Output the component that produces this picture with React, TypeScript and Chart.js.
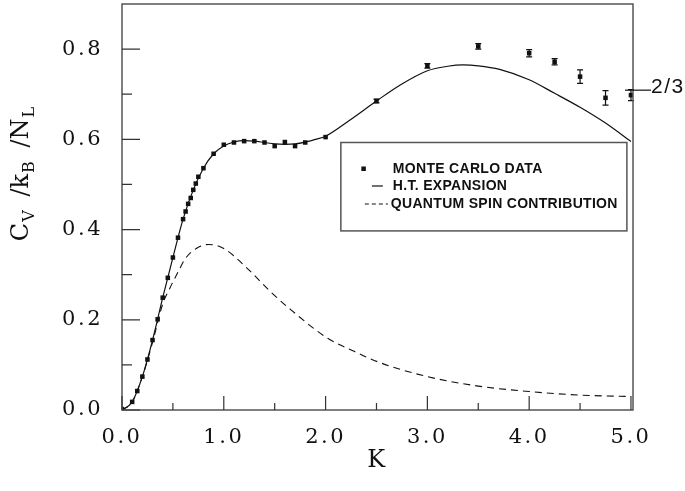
import React, { useEffect, useRef } from "react";
import { Chart, registerables } from "chart.js";

Chart.register(...registerables);

// ---------- data ----------
// Monte Carlo data: K, Cv/kB/NL, error bar half-height
const mcK = [0.0, 0.1, 0.15, 0.2, 0.25, 0.3, 0.35, 0.4, 0.45, 0.5, 0.55, 0.6, 0.625, 0.65, 0.675, 0.7, 0.725, 0.75, 0.8, 0.9, 1.0, 1.1, 1.2, 1.3, 1.4, 1.5, 1.6, 1.7, 1.8, 2.0, 2.5, 3.0, 3.5, 4.0, 4.25, 4.5, 4.75, 5.0];
const mcCv = [0.002, 0.018, 0.042, 0.074, 0.112, 0.155, 0.201, 0.249, 0.293, 0.338, 0.382, 0.423, 0.44, 0.457, 0.47, 0.488, 0.502, 0.517, 0.536, 0.568, 0.588, 0.593, 0.596, 0.596, 0.593, 0.585, 0.594, 0.585, 0.593, 0.605, 0.685, 0.763, 0.806, 0.791, 0.772, 0.739, 0.692, 0.698];
const mcErr = [0, 0, 0, 0, 0, 0, 0, 0, 0, 0, 0, 0, 0, 0, 0, 0, 0, 0, 0, 0, 0, 0, 0, 0, 0, 0, 0, 0, 0, 0, 0.004, 0.005, 0.006, 0.008, 0.007, 0.015, 0.016, 0.012];

// High-temperature expansion (solid curve)
const htK = [0.0, 0.1, 0.2, 0.3, 0.4, 0.5, 0.6, 0.7, 0.8, 0.9, 1.0, 1.1, 1.2, 1.3, 1.4, 1.5, 1.6, 1.7, 1.8, 1.9, 2.0, 2.24, 2.5, 2.73, 3.0, 3.2, 3.35, 3.5, 3.71, 4.0, 4.25, 4.5, 4.75, 5.0];
const htCv = [0.0, 0.018, 0.074, 0.155, 0.249, 0.338, 0.423, 0.488, 0.536, 0.568, 0.585, 0.594, 0.597, 0.596, 0.593, 0.59, 0.589, 0.59, 0.594, 0.6, 0.607, 0.643, 0.685, 0.72, 0.752, 0.762, 0.765, 0.763, 0.755, 0.732, 0.702, 0.671, 0.636, 0.595];

// Quantum spin contribution (dashed curve)
const qsK = [0.0, 0.1, 0.2, 0.3, 0.4, 0.47, 0.56, 0.62, 0.73, 0.85, 1.0, 1.23, 1.46, 1.66, 2.02, 2.28, 2.51, 3.0, 3.5, 4.0, 4.5, 5.0];
const qsCv = [0.0, 0.018, 0.074, 0.15, 0.235, 0.27, 0.31, 0.335, 0.358, 0.367, 0.358, 0.314, 0.262, 0.222, 0.159, 0.13, 0.107, 0.074, 0.053, 0.041, 0.033, 0.03];

const legendLabels = ["MONTE CARLO DATA", "H.T. EXPANSION", "QUANTUM SPIN CONTRIBUTION"];
const yTitleMain = ["C", " /k", " /N"];
const yTitleSub = ["V", "B", "L"];
const xTitle = "K";
const limitLabel = "2/3";
const limitValue = 0.709;

const xMin = 0;
const xMax = 5.02;
const yMin = 0;
const yMax = 0.9;
const xStep = 1;
const yStep = 0.2;

// legend box in data coordinates
const legendBoxK = [2.15, 4.96];
const legendBoxCv = [0.397, 0.593];

export default function App() {
  const ref = useRef<HTMLCanvasElement>(null);

  useEffect(() => {
    const canvas = ref.current!;
    const serif = "'DejaVu Serif', serif";
    const sans = "'Liberation Sans', Arial, sans-serif";
    const ink = "#111";
    const frameCol = "#555";

    const figurePlugin = {
      id: "figure",
      beforeDraw(chart: any) {
        const ctx = chart.ctx;
        ctx.save();
        ctx.fillStyle = "#fff";
        ctx.fillRect(0, 0, chart.width, chart.height);
        ctx.restore();
        ctx.letterSpacing = "2.5px";
      },
      beforeDatasetsDraw(chart: any) {
        chart.ctx.letterSpacing = "0px";
      },
      afterDatasetsDraw(chart: any) {
        const ctx = chart.ctx;
        const xs = chart.scales.x;
        const ys = chart.scales.y;
        ctx.save();
        ctx.strokeStyle = ink;
        ctx.lineWidth = 1.2;
        for (let i = 0; i < mcK.length; i++) {
          const e = mcErr[i];
          if (!e) continue;
          const x = xs.getPixelForValue(mcK[i]);
          const y1 = ys.getPixelForValue(mcCv[i] + e);
          const y2 = ys.getPixelForValue(mcCv[i] - e);
          ctx.beginPath();
          ctx.moveTo(x, y1);
          ctx.lineTo(x, y2);
          ctx.moveTo(x - 3, y1);
          ctx.lineTo(x + 3, y1);
          ctx.moveTo(x - 3, y2);
          ctx.lineTo(x + 3, y2);
          ctx.stroke();
        }
        ctx.restore();
      },
      afterDraw(chart: any) {
        const ctx = chart.ctx;
        const xs = chart.scales.x;
        const ys = chart.scales.y;
        const a = chart.chartArea;
        ctx.save();
        ctx.letterSpacing = "0px";

        // frame
        ctx.strokeStyle = frameCol;
        ctx.lineWidth = 1.5;
        ctx.strokeRect(a.left, a.top, a.right - a.left, a.bottom - a.top);

        // inward ticks
        ctx.strokeStyle = "#333";
        ctx.lineWidth = 1.2;
        ctx.beginPath();
        const yt = ys.ticks.map((t: any) => t.value);
        yt.forEach((v: number) => {
          const y = ys.getPixelForValue(v);
          ctx.moveTo(a.left, y);
          ctx.lineTo(a.left + 18, y);
        });
        for (let v = yt[0] + yStep / 2; v < yMax - 1e-6; v += yStep) {
          const y = ys.getPixelForValue(v);
          ctx.moveTo(a.left, y);
          ctx.lineTo(a.left + 10, y);
        }
        const xt = xs.ticks.map((t: any) => t.value);
        xt.forEach((v: number) => {
          const x = xs.getPixelForValue(v);
          ctx.moveTo(x, a.bottom);
          ctx.lineTo(x, a.bottom - 14);
        });
        for (let v = xt[0] + xStep / 2; v < xMax - 1e-6; v += xStep) {
          const x = xs.getPixelForValue(v);
          ctx.moveTo(x, a.bottom);
          ctx.lineTo(x, a.bottom - 7);
        }
        ctx.stroke();

        // legend box
        const bl = xs.getPixelForValue(legendBoxK[0]);
        const br = xs.getPixelForValue(legendBoxK[1]);
        const bt = ys.getPixelForValue(legendBoxCv[1]);
        const bb = ys.getPixelForValue(legendBoxCv[0]);
        ctx.fillStyle = "#fff";
        ctx.fillRect(bl, bt, br - bl, bb - bt);
        ctx.strokeStyle = frameCol;
        ctx.lineWidth = 1.5;
        ctx.strokeRect(bl, bt, br - bl, bb - bt);

        const rows = [bt + 26.5, bt + 43.5, bt + 61.5];
        ctx.fillStyle = ink;
        ctx.fillRect(bl + 20.5, rows[0] - 2.5, 4.5, 4.5);
        ctx.strokeStyle = ink;
        ctx.lineWidth = 1.2;
        ctx.beginPath();
        ctx.moveTo(bl + 31, rows[1]);
        ctx.lineTo(bl + 42, rows[1]);
        ctx.stroke();
        ctx.setLineDash([4, 3]);
        ctx.beginPath();
        ctx.moveTo(bl + 24, rows[2]);
        ctx.lineTo(bl + 47, rows[2]);
        ctx.stroke();
        ctx.setLineDash([]);
        ctx.font = `bold 14px ${sans}`;
        ctx.letterSpacing = "0.3px";
        ctx.textBaseline = "middle";
        ctx.textAlign = "left";
        legendLabels.forEach((t, i) => {
          ctx.fillText(t, bl + (i === 2 ? 50 : 52), rows[i]);
        });
        ctx.letterSpacing = "0px";

        // 2/3 marker
        const ly = ys.getPixelForValue(limitValue);
        ctx.strokeStyle = ink;
        ctx.lineWidth = 1.2;
        ctx.beginPath();
        ctx.moveTo(a.right - 8, ly);
        ctx.lineTo(a.right + 18, ly);
        ctx.stroke();
        ctx.font = `21px ${sans}`;
        ctx.letterSpacing = "1.5px";
        ctx.textBaseline = "alphabetic";
        ctx.fillText(limitLabel, a.right + 18, ly + 3);
        ctx.letterSpacing = "0px";

        // y axis title with subscripts
        const big = `24px ${serif}`;
        const small = `16px ${serif}`;
        const parts: { t: string; sub: boolean }[] = [];
        yTitleMain.forEach((m, i) => {
          parts.push({ t: m, sub: false });
          parts.push({ t: yTitleSub[i], sub: true });
        });
        const widths = parts.map((p) => {
          ctx.font = p.sub ? small : big;
          return ctx.measureText(p.t).width + (p.sub ? 6 : 1);
        });
        const total = widths.reduce((s, w) => s + w, 0);
        ctx.translate(28, 171);
        ctx.rotate(-Math.PI / 2);
        ctx.textBaseline = "alphabetic";
        let cx = -total / 2;
        parts.forEach((p, i) => {
          ctx.font = p.sub ? small : big;
          ctx.fillText(p.t, cx, p.sub ? 6 : 0);
          cx += widths[i];
        });
        ctx.restore();
      },
    };

    const chart = new Chart(canvas, {
      type: "line",
      data: {
        datasets: [
          {
            label: legendLabels[0],
            data: mcK.map((k, i) => ({ x: k, y: mcCv[i] })),
            showLine: false,
            pointStyle: "rect",
            pointRadius: 3.2,
            pointBackgroundColor: ink,
            pointBorderWidth: 0,
            borderColor: ink,
            order: 0,
          },
          {
            label: legendLabels[1],
            data: htK.map((k, i) => ({ x: k, y: htCv[i] })),
            borderColor: ink,
            borderWidth: 1.2,
            pointRadius: 0,
            cubicInterpolationMode: "monotone",
            fill: false,
            order: 1,
          },
          {
            label: legendLabels[2],
            data: qsK.map((k, i) => ({ x: k, y: qsCv[i] })),
            borderColor: ink,
            borderWidth: 1.1,
            borderDash: [7, 5],
            pointRadius: 0,
            cubicInterpolationMode: "monotone",
            fill: false,
            order: 2,
          },
        ],
      },
      options: {
        animation: false,
        responsive: false,
        events: [],
        layout: { padding: { left: 0, top: 4, right: 52, bottom: 0 }, autoPadding: false },
        plugins: {
          legend: { display: false },
          tooltip: { enabled: false },
        },
        scales: {
          x: {
            type: "linear",
            min: xMin,
            max: xMax,
            grid: { display: false },
            border: { display: false },
            ticks: {
              stepSize: xStep,
              includeBounds: false,
              padding: 7,
              color: ink,
              maxRotation: 0,
              font: { family: "DejaVu Serif", size: 21 },
              callback: (v: any) => Number(v).toFixed(1),
            },
            title: {
              display: true,
              text: xTitle,
              color: ink,
              font: { family: "DejaVu Serif", size: 24 },
              padding: { top: 0, bottom: 16 },
            },
            afterFit: (s: any) => {
              s.height = 81;
              s.paddingLeft = 0;
              s.paddingRight = 0;
            },
          },
          y: {
            type: "linear",
            min: yMin,
            max: yMax,
            grid: { display: false },
            border: { display: false },
            ticks: {
              stepSize: yStep,
              includeBounds: false,
              padding: 11,
              color: ink,
              font: { family: "DejaVu Serif", size: 21 },
              callback: (v: any) => Number(v).toFixed(1),
            },
            afterFit: (s: any) => {
              s.width = 122;
              s.paddingTop = 0;
              s.paddingBottom = 0;
            },
          },
        },
      },
      plugins: [figurePlugin],
    } as any);

    return () => chart.destroy();
  }, []);

  return (
    <div style={{ position: "fixed", left: 0, top: 0, width: 685, height: 491, background: "#fff" }}>
      <canvas ref={ref} width={685} height={491} style={{ display: "block" }} />
    </div>
  );
}
